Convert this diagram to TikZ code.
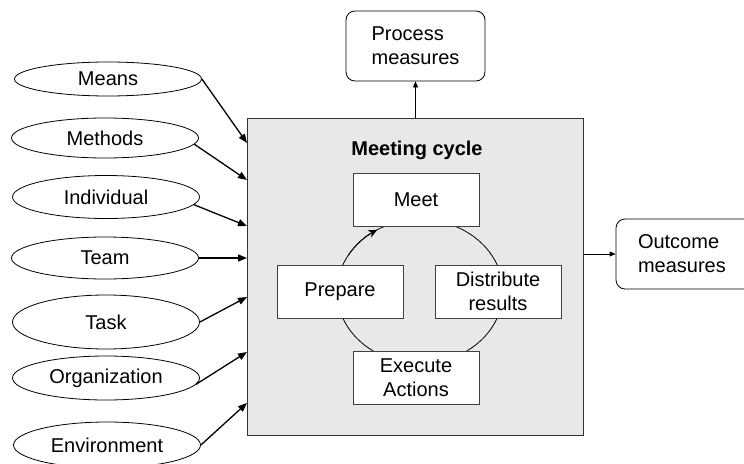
\documentclass[tikz,border=0pt]{standalone}
\usepackage{fontspec}
\setmainfont{Liberation Sans}
\usetikzlibrary{shapes.geometric,arrows.meta}
\begin{document}
\begin{tikzpicture}[x=1pt,y=-1pt,
 every node/.style={font=\fontsize{20}{24}\selectfont},
 factor/.style={draw, ellipse, inner sep=0pt, minimum width=187pt, line width=0.8pt},
 stepbox/.style={draw=black!75, fill=white, line width=1pt, minimum width=126pt, minimum height=53pt, inner sep=0pt, align=center},
 measure/.style={draw, rounded corners=9pt, align=left, line width=0.8pt, minimum height=70pt},
 inarrow/.style={-{Triangle[length=9pt,width=7pt]}, line width=1.3pt},
 outarrow/.style={-{Triangle[length=6pt,width=5pt]}, line width=0.8pt}]
\useasboundingbox (0,0) rectangle (744,463);

% main box
\node[draw=black!80, fill=black!9, minimum width=336pt, minimum height=317pt, inner sep=0pt, line width=1pt] (mc) at (415,276.5) {};
\node[font=\bfseries\fontsize{20}{24}\selectfont] (title) at (417,150) {Meeting cycle};

% cycle
\node[draw, ellipse, minimum width=166pt, minimum height=144pt, inner sep=0pt, line width=0.8pt] (cyc) at (420,291.5) {};
\node[stepbox] (meet) at (416,199.5) {Meet};
\node[stepbox] (prep) at (340,291.5) {Prepare};
\node[stepbox] (dist) at (498,291.5) {Distribute\\results};
\node[stepbox] (exec) at (416,377.5) {Execute\\Actions};
\draw[-{Stealth[length=9pt,width=8pt]}, line width=0.8pt] (cyc.center) ++(210:83 and 72) arc[start angle=210, end angle=239, x radius=83, y radius=72];

% measures
\node[measure, minimum width=139pt] (pm) at (415.5,46) {Process\\measures};
\node[measure, text width=100pt, inner xsep=22pt] (om) at (688,254) {Outcome\\measures};
\draw[outarrow] (mc.north -| pm.south) -- (pm.south);
\draw[outarrow] (mc.east |- om.west) -- (om.west);

% factors
\node[factor, minimum height=34pt] (means) at (108,79) {Means};
\node[factor, minimum height=40pt] (methods) at (105,138) {Methods};
\node[factor, minimum height=43pt] (indiv) at (106,197) {Individual};
\node[factor, minimum height=42pt] (team) at (105,258) {Team};
\node[factor, minimum height=54pt] (task) at (106,322) {Task};
\node[factor, minimum height=44pt] (org) at (106,378) {Organization};
\node[factor, minimum height=46pt] (env) at (107,445) {Environment};

\coordinate (in1) at (247,143);
\coordinate (in2) at (247,180);
\coordinate (in3) at (247,226);
\coordinate (in4) at (247,258);
\coordinate (in5) at (247,297);
\coordinate (in6) at (247,352);
\coordinate (in7) at (247,403);

\draw[inarrow] (means.east) -- (in1);
\draw[inarrow] (methods.-4) -- (in2);
\draw[inarrow] (indiv.-5) -- (in3);
\draw[inarrow] (team.east) -- (in4);
\draw[inarrow] (task.east) -- (in5);
\draw[inarrow] (org.-4) -- (in6);
\draw[inarrow] (env.east) -- (in7);
\end{tikzpicture}
\end{document}
